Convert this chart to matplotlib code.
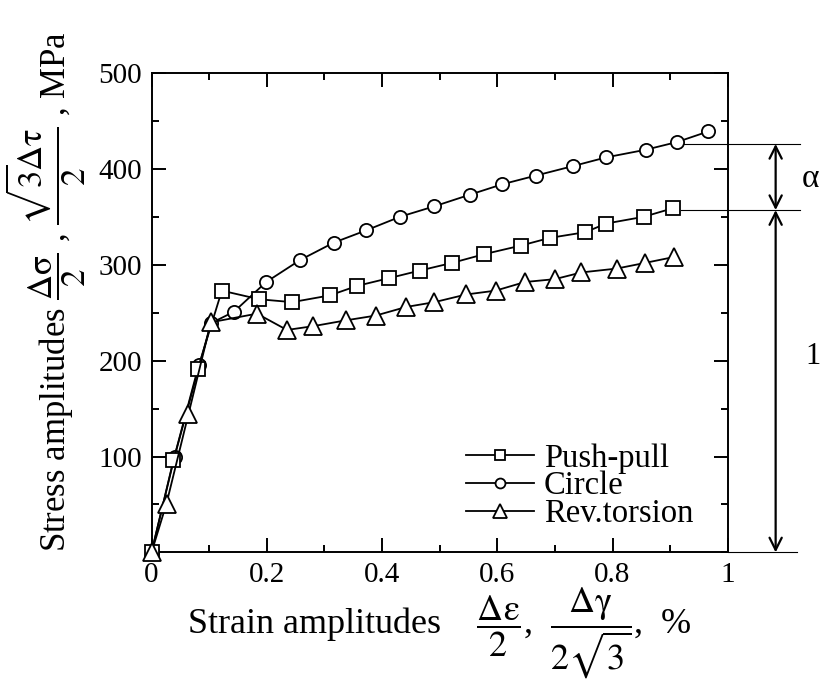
import matplotlib
matplotlib.use("Agg")
import matplotlib.pyplot as plt
from matplotlib.ticker import MultipleLocator

plt.rcParams["font.family"] = ["Liberation Serif", "DejaVu Serif"]
plt.rcParams["mathtext.fontset"] = "stix"

# --- data ---
push_x = [0.0, 0.038, 0.080, 0.122, 0.187, 0.244, 0.309, 0.357, 0.412, 0.466,
          0.522, 0.577, 0.641, 0.691, 0.753, 0.789, 0.854, 0.905]
push_y = [0, 96, 191, 273, 264, 261, 268, 278, 286, 294,
          302, 311, 320, 328, 334, 343, 350, 359]

circle_x = [0.0, 0.040, 0.083, 0.103, 0.143, 0.199, 0.258, 0.316, 0.373, 0.431,
            0.491, 0.552, 0.609, 0.667, 0.732, 0.789, 0.858, 0.912, 0.966]
circle_y = [0, 100, 195, 239, 251, 282, 305, 323, 336, 350,
            361, 373, 384, 393, 403, 412, 420, 428, 439]

tors_x = [0.0, 0.026, 0.064, 0.103, 0.183, 0.235, 0.281, 0.337, 0.389, 0.442,
          0.491, 0.546, 0.597, 0.648, 0.700, 0.746, 0.807, 0.857, 0.906]
tors_y = [0, 51, 144, 240, 249, 232, 236, 242, 247, 256,
          261, 269, 273, 282, 285, 292, 296, 302, 308]

x_ticks = [0, 0.2, 0.4, 0.6, 0.8, 1.0]
x_labels = ["0", "0.2", "0.4", "0.6", "0.8", "1"]
y_ticks = [100, 200, 300, 400, 500]

# levels of the alpha / 1 bracket on the right
level_circle = 426
level_push = 357

fig = plt.figure(figsize=(8.28, 6.82), dpi=100)
ax = fig.add_axes([0.183, 0.190, 0.696, 0.703])

mk = dict(color="black", markerfacecolor="white", markeredgecolor="black",
          markeredgewidth=1.3, linewidth=1.3, clip_on=False)
ax.plot(circle_x, circle_y, marker="o", markersize=9.5, label="Circle", zorder=3, **mk)
ax.plot(push_x, push_y, marker="s", markersize=10, label="Push-pull", zorder=4, **mk)
ax.plot(tors_x, tors_y, marker="^", markersize=12.5, label="Rev.torsion", zorder=5, **mk)

ax.set_xlim(0, 1)
ax.set_ylim(0, 500)
ax.set_xticks(x_ticks)
ax.set_xticklabels(x_labels)
ax.set_yticks(y_ticks)
ax.xaxis.set_minor_locator(MultipleLocator(0.1))
ax.yaxis.set_minor_locator(MultipleLocator(50))
ax.tick_params(which="both", direction="in", top=True, right=True,
               labelsize=21, width=1.4, pad=7)
ax.tick_params(which="major", length=10)
ax.tick_params(which="minor", length=5)
for s in ax.spines.values():
    s.set_linewidth(1.4)

ax.set_xlabel(r"Strain amplitudes    $\dfrac{\mathrm{\Delta\varepsilon}}{2}$,  "
              r"$\dfrac{\mathrm{\Delta\gamma}}{2\sqrt{3}}$,  %", fontsize=26)
ax.xaxis.set_label_coords(0.5, -0.07)
ax.set_ylabel(r"Stress amplitudes $\dfrac{\mathrm{\Delta\sigma}}{2}$ , "
              r"$\dfrac{\sqrt{3}\!\mathrm{\Delta\tau}}{2}$ , MPa", fontsize=25)
ax.yaxis.set_label_coords(-0.11, 0.545)

# legend
handles, labels = ax.get_legend_handles_labels()
order = [1, 0, 2]
leg = ax.legend([handles[i] for i in order], [labels[i] for i in order],
                loc="upper left", bbox_to_anchor=(0.545, 0.228), frameon=False,
                fontsize=23.5, handlelength=2.1, handletextpad=0.3,
                labelspacing=-0.08, borderpad=0, borderaxespad=0, markerscale=0.75)

# bracket on the right, outside the axes
ax.plot([0.923, 1.125], [level_circle, level_circle], color="black", lw=0.8, clip_on=False)
ax.plot([0.918, 1.125], [level_push, level_push], color="black", lw=0.8, clip_on=False)
ax.plot([1.0, 1.12], [0, 0], color="black", lw=0.8, clip_on=False)
arrow = dict(arrowstyle="<->", color="black", lw=1.6, shrinkA=0, shrinkB=0,
             mutation_scale=22)
ax.annotate("", xy=(1.083, level_circle), xytext=(1.083, level_push),
            arrowprops=arrow, annotation_clip=False)
ax.annotate("", xy=(1.083, level_push), xytext=(1.083, 0),
            arrowprops=arrow, annotation_clip=False)
ax.text(1.128, 390, "α", fontsize=24, va="center", ha="left")
ax.text(1.135, 204, "1", fontsize=22, va="center", ha="left")

fig.savefig("out.png", dpi=100)
